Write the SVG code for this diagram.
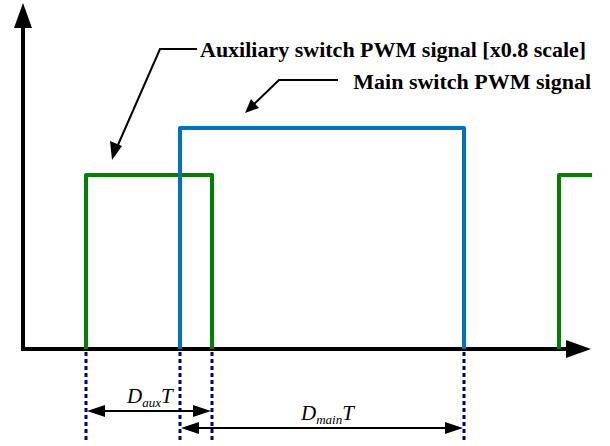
<svg xmlns="http://www.w3.org/2000/svg" width="610" height="446" viewBox="0 0 610 446">
<style>
.ax{stroke:#000;stroke-width:4;fill:none}
.grn{stroke:#008000;stroke-width:4;fill:none;stroke-linejoin:round}
.blu{stroke:#0070c0;stroke-width:4;fill:none;stroke-linejoin:round}
.dot{stroke:#00007f;stroke-width:3;stroke-dasharray:4,3;fill:none}
.ln{stroke:#000;stroke-width:2;fill:none}
.lbl{font-family:"Liberation Serif","Times New Roman",serif;font-weight:bold;font-size:22px;fill:#000}
.it{font-family:"Liberation Serif","Times New Roman",serif;font-style:italic;fill:#000}
</style>
<g id="axes">
<path class="ax" d="M23,349 L23,28"/>
<path d="M23,3 L14,28 L32,28 z" fill="#000"/>
<path class="ax" d="M21,349 L566,349"/>
<path d="M591,349 L566,340 L566,358 z" fill="#000"/>
</g>
<g id="aux-signal">
<path class="grn" d="M86,349 L86,175 L212,175 L212,349"/>
<path class="grn" d="M559,349 L559,175 L592,175"/>
</g>
<g id="main-signal">
<path class="blu" d="M180,349 L180,128 L464,128 L464,349"/>
</g>
<g id="guides">
<path class="dot" d="M86,352 L86,440"/>
<path class="dot" d="M180,352 L180,440"/>
<path class="dot" d="M212,352 L212,440"/>
<path class="dot" d="M464,352 L464,440"/>
</g>
<g id="connectors">
<path class="ln" d="M197,49 L160,49 L114,154" />
<path d="M112,160 L110,141 L122,146 z" fill="#000"/>
<path class="ln" d="M338,80 L279,80 L251,107"/>
<path d="M245,113 L251,99 L259,108 z" fill="#000"/>
<path class="ln" d="M104,411 L194,411"/>
<path d="M87,411 L105,405 L105,417 z" fill="#000"/>
<path d="M211,411 L193,405 L193,417 z" fill="#000"/>
<path class="ln" d="M198,428 L446,428"/>
<path d="M181,428 L199,422 L199,434 z" fill="#000"/>
<path d="M463,428 L445,422 L445,434 z" fill="#000"/>
</g>
<g id="labels">
<text class="lbl" x="200" y="57">Auxiliary switch PWM signal [x0.8 scale]</text>
<text class="lbl" x="591" y="89" text-anchor="end">Main switch PWM signal</text>
<text class="it" x="127" y="403" font-size="21">D<tspan font-size="13" dy="4">aux</tspan><tspan dy="-4">T</tspan></text>
<text class="it" x="301" y="420" font-size="21">D<tspan font-size="13" dy="4">main</tspan><tspan dy="-4">T</tspan></text>
</g>
</svg>
